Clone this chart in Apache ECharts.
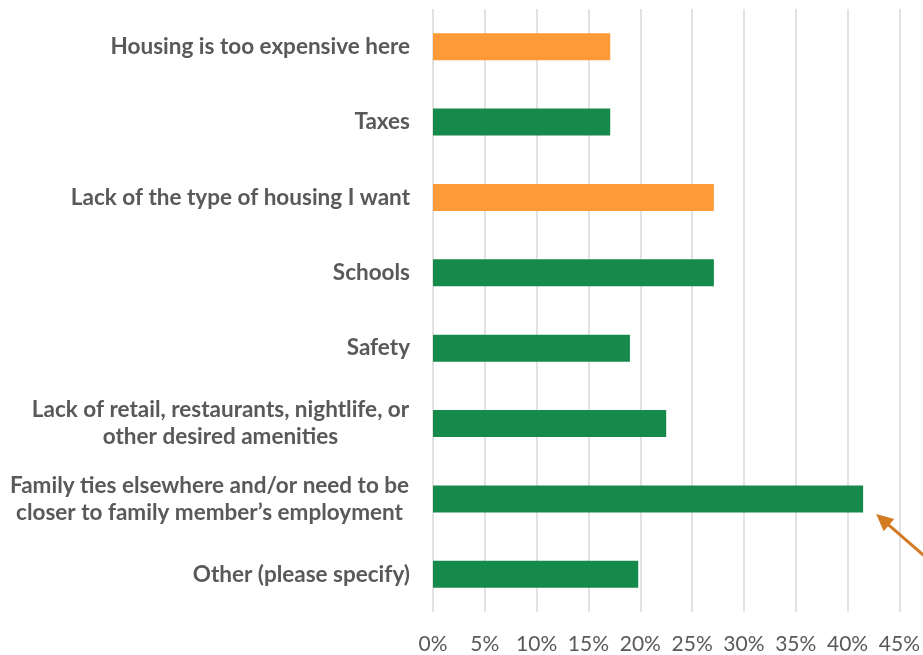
<!DOCTYPE html>
<html>
<head>
<meta charset="utf-8">
<script src="https://cdn.jsdelivr.net/npm/echarts@6/dist/echarts.min.js"></script>
<style>
  html, body { margin: 0; padding: 0; background: #fff; }
  #main { width: 923px; height: 655px; }
</style>
</head>
<body>
<div id="main"></div>
<script>
// categories top to bottom, values in percent
var categories = [
  'Housing is too expensive here',
  'Taxes',
  'Lack of the type of housing I want',
  'Schools',
  'Safety',
  'Lack of retail, restaurants, nightlife, or\nother desired amenities',
  'Family ties elsewhere and/or need to be\ncloser to family member\u2019s employment',
  'Other (please specify)'
];
var values = [17.1, 17.1, 27.1, 27.1, 19.0, 22.5, 41.5, 19.8];
var housingRelated = [true, false, true, false, false, false, false, false];

var orange = '#FE9A37';
var green = '#168A4A';
var labelSize = 22.5;

// multi-line labels: lines centred inside a right-aligned block
var ctx = document.createElement('canvas').getContext('2d');
ctx.font = 'bold ' + labelSize + 'px Lato';
var rich = {};
categories.forEach(function (c, i) {
  var lines = c.split('\n');
  if (lines.length > 1) {
    var w = Math.max.apply(null, lines.map(function (l) { return ctx.measureText(l).width; }));
    rich['m' + i] = { width: Math.ceil(w) + 1, align: 'center', fontFamily: 'Lato', fontWeight: 'bold', fontSize: labelSize, color: '#595959', lineHeight: 27 };
  }
});

var chart = echarts.init(document.getElementById('main'));

var option = {
  animation: false,
  grid: { left: 433, right: 22, top: 9, bottom: 42 },
  xAxis: {
    type: 'value',
    min: 0,
    max: 45,
    interval: 5,
    axisLine: { show: false },
    axisTick: { show: false },
    axisLabel: {
      formatter: '{value}%',
      color: '#595959',
      fontFamily: 'Lato',
      fontSize: 21,
      margin: 22
    },
    splitLine: { show: true, lineStyle: { color: '#d9d9d9', width: 1.5 } }
  },
  yAxis: {
    type: 'category',
    inverse: true,
    data: categories,
    axisLine: { show: false },
    axisTick: { show: false },
    axisLabel: {
      color: '#595959',
      fontFamily: 'Lato',
      fontWeight: 'bold',
      fontSize: labelSize,
      lineHeight: 27,
      margin: 23,
      rich: rich,
      formatter: function (v, i) {
        if (rich['m' + i]) {
          return v.split('\n').map(function (l) { return '{m' + i + '|' + l + '}'; }).join('\n');
        }
        return v;
      }
    }
  },
  series: [{
    type: 'bar',
    barWidth: 27,
    data: values.map(function (v, i) {
      return { value: v, itemStyle: { color: housingRelated[i] ? orange : green } };
    })
  }]
};

chart.setOption(option);

// annotation arrow pointing at the end of the family-ties bar
var tip = chart.convertToPixel({ gridIndex: 0 }, [values[6], 6]);
var tx = tip[0] + 13, ty = tip[1] + 15;
var dx = 46, dy = 40;
var len = Math.sqrt(dx * dx + dy * dy);
var ux = dx / len, uy = dy / len;
var headLen = 17, headW = 8;
var bx = tx + ux * headLen, by = ty + uy * headLen;
chart.setOption({
  graphic: [
    {
      type: 'line',
      shape: { x1: bx - 2 * ux, y1: by - 2 * uy, x2: tx + ux * 120, y2: ty + uy * 120 },
      style: { stroke: '#D47A22', lineWidth: 3 }
    },
    {
      type: 'polygon',
      shape: { points: [[tx, ty], [bx - uy * headW, by + ux * headW], [bx + uy * headW, by - ux * headW]] },
      style: { fill: '#D47A22' }
    }
  ]
});
</script>
</body>
</html>
